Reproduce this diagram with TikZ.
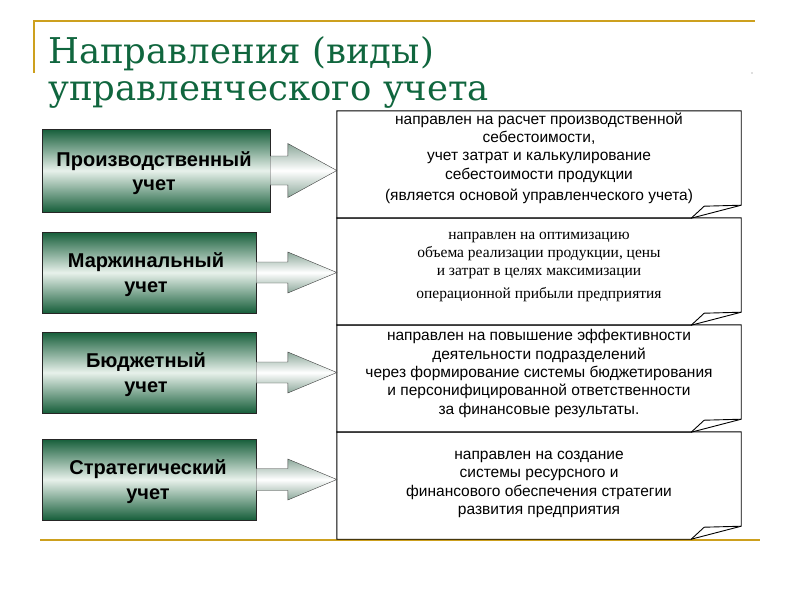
\documentclass[tikz,border=0pt]{standalone}
\usepackage{fontspec}
\setmainfont{Liberation Serif}
\setsansfont{Liberation Sans}
\newfontfamily\titlefont{DejaVu Serif}
\usetikzlibrary{calc,math}

\definecolor{titlegreen}{RGB}{16,102,62}
\definecolor{rulegold}{RGB}{205,160,30}
\definecolor{boxgreen}{RGB}{22,94,58}
\definecolor{boxlight}{RGB}{232,241,235}
\definecolor{arrowgrey}{RGB}{140,168,154}

\tikzset{
  goldrule/.style={draw=rulegold, line width=1.6},
  titletext/.style={anchor=base west, inner sep=0pt, text=titlegreen, font=\titlefont\fontsize{35.5}{37}\selectfont},
  kindbox/.style={draw=black!85, top color=boxgreen, bottom color=boxgreen, middle color=boxlight,
    inner sep=0pt, align=center, font=\sffamily\bfseries\fontsize{20}{24.5}\selectfont},
  kindtext/.style={inner sep=0pt, align=center, font=\sffamily\bfseries\fontsize{20}{24.5}\selectfont},
  blockarrow/.style={draw=black!75, top color=arrowgrey, bottom color=arrowgrey, middle color=white},
  notebox/.style={minimum width=404, minimum height=107, inner sep=0pt},
  noteline/.style={draw=black, line width=0.9},
  notetext/.style={align=center, inner sep=0pt, font=\sffamily\fontsize{15.5}{18.3}\selectfont}
}

\begin{document}
\begin{tikzpicture}[x=1pt, y=-1pt]
  \tikzmath{\headlen = 49;}
  \useasboundingbox (0,0) rectangle (800,600);

  \draw[goldrule] (33,21) -- (755,21);
  \draw[goldrule] (34,21) -- (34,73);
  \draw[goldrule] (40,540) -- (760,540);
  \fill[black!25] (752,73) circle (0.8);

  \node[titletext] (title1) at (48,63) {Направления (виды)};
  \node[titletext] (title2) at (48,100) {управленческого учета};

  % kinds of accounting
  \node[kindbox, minimum width=228, minimum height=83] (prod) at (156,170.5) {};
  \node[kindbox, minimum width=214, minimum height=81] (marg) at (149,272.5) {};
  \node[kindbox, minimum width=214, minimum height=81] (budg) at (149,372.5) {};
  \node[kindbox, minimum width=214, minimum height=81] (strat) at (149,479.5) {};

  \node[kindtext] (prodlabel) at ($(prod.center)+(-2,2.5)$) {Производственный\\учет};
  \node[kindtext] (marglabel) at ($(marg.center)+(-3,2)$) {Маржинальный\\учет};
  \node[kindtext] (budglabel) at ($(budg.center)+(-3,2)$) {Бюджетный\\учет};
  \node[kindtext] (stratlabel) at ($(strat.center)+(-1,2)$) {Стратегический\\учет};

  % notes
  \node[notebox] (prodnote) at (539,164.5) {};
  \node[notebox] (margnote) at (539,271.5) {};
  \node[notebox] (budgnote) at (539,378.5) {};
  \node[notebox] (stratnote) at (539,485.5) {};

  \foreach \note in {prodnote, margnote, budgnote, stratnote} {
    \draw[noteline] (\note.north west) -- (\note.north east) -- ($(\note.south east)+(0,-13)$)
      -- ($(\note.south east)+(-50,0)$) -- (\note.south west) -- cycle;
    \draw[noteline] ($(\note.south east)+(-50,0)$) -- ($(\note.south east)+(-37,-12)$) -- ($(\note.south east)+(0,-13)$);
  }

  \foreach \kind/\note/\sh/\hh in {prod/prodnote/14.5/27, marg/margnote/10.5/20.5, budg/budgnote/10.5/20.5, strat/stratnote/11/20.5}
    \path[blockarrow] let \p1 = (\kind.east), \p2 = (\note.west) in
      ({\x1},{\y1+\sh*1pt}) -- ({\x2-\headlen*1pt},{\y1+\sh*1pt}) -- ({\x2-\headlen*1pt},{\y1+\hh*1pt})
      -- ({\x2},{\y1}) -- ({\x2-\headlen*1pt},{\y1-\hh*1pt}) -- ({\x2-\headlen*1pt},{\y1-\sh*1pt})
      -- ({\x1},{\y1-\sh*1pt}) -- cycle;

  \node[notetext] (prodtext) at ($(prodnote.center)+(0,-6)$)
    {направлен на расчет производственной\\себестоимости,\\учет затрат и калькулирование\\себестоимости продукции\\[3.5pt](является основой управленческого учета)};
  \node[notetext, font=\rmfamily\fontsize{15.5}{18}\selectfont] (margtext) at ($(margnote.center)+(0,-4.5)$)
    {направлен на оптимизацию\\объема реализации продукции, цены\\и затрат в целях максимизации\\[5pt]операционной прибыли предприятия};
  \node[notetext] (budgtext) at ($(budgnote.center)+(0,-5)$)
    {направлен на повышение эффективности\\деятельности подразделений\\через формирование системы бюджетирования\\и персонифицированной ответственности\\за финансовые результаты.};
  \node[notetext] (strattext) at ($(stratnote.center)+(0,-1)$)
    {направлен на создание\\системы ресурсного и\\финансового обеспечения стратегии\\развития предприятия};
\end{tikzpicture}
\end{document}
